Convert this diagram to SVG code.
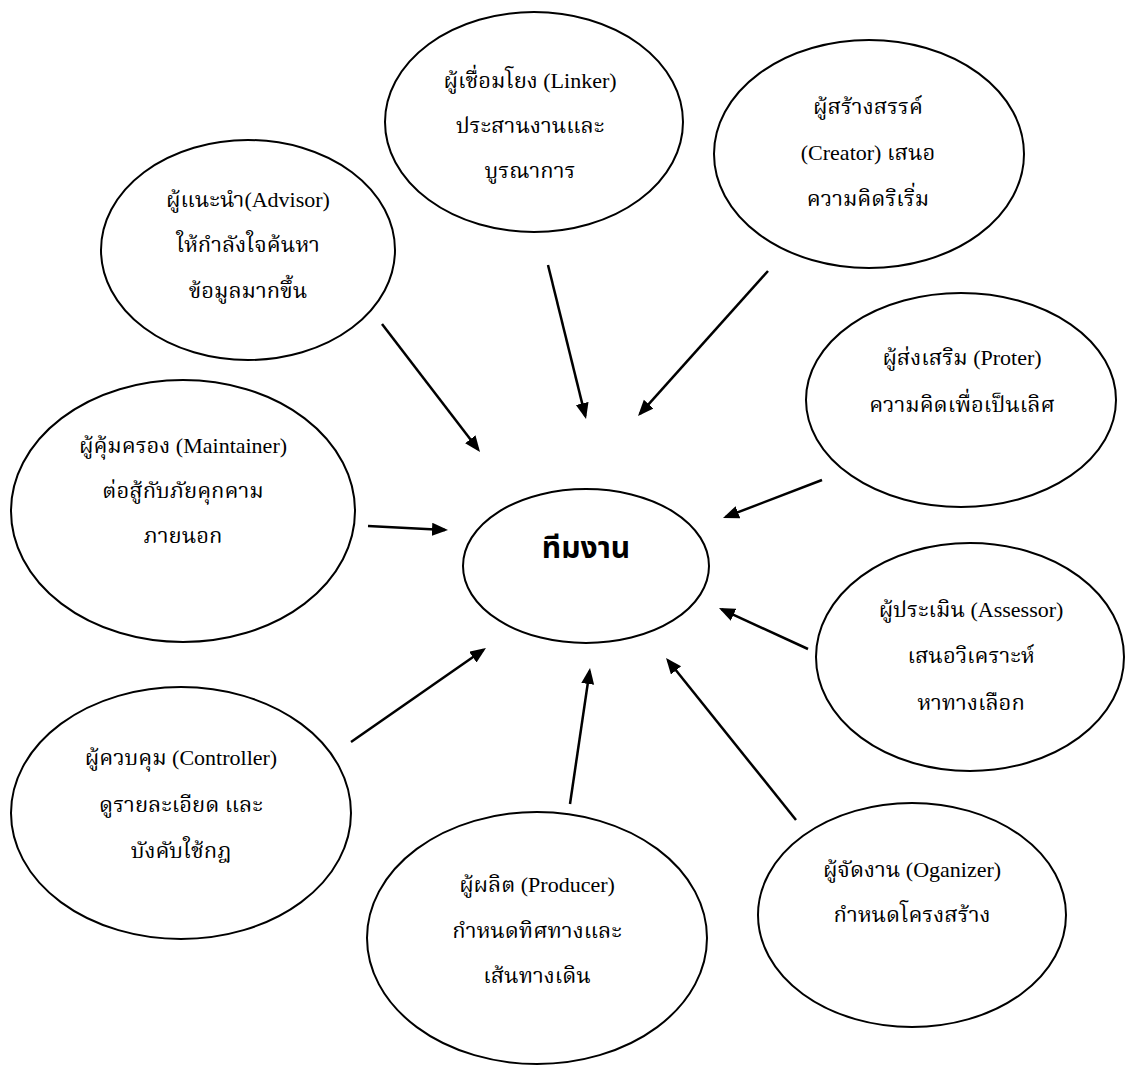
<svg xmlns="http://www.w3.org/2000/svg" width="1125" height="1066" viewBox="0 0 1125 1066">
<defs>
<marker id="ah" markerUnits="userSpaceOnUse" markerWidth="17" markerHeight="14" refX="13" refY="6.5" orient="auto">
<path d="M0,0 L16,6.5 L0,13 z" fill="#000"/>
</marker>
<style>
.n ellipse{fill:none;stroke:#000;stroke-width:2}
.t{font-family:"Liberation Serif","Norasi","Noto Serif Thai",serif;font-size:22px;fill:#000;text-anchor:middle}
.c{font-family:"Liberation Sans","Noto Sans Thai",sans-serif;font-size:30px;font-weight:bold;fill:#000;text-anchor:middle}
#connectors line{stroke:#000;stroke-width:2.5;marker-end:url(#ah)}
</style>
</defs>
<rect width="1125" height="1066" fill="#fff"/>
<g id="linker" class="n"><ellipse cx="534" cy="122" rx="149" ry="110"/>
<text class="t" x="530" y="88">ผู้เชื่อมโยง (Linker)</text>
<text class="t" x="530" y="133">ประสานงานและ</text>
<text class="t" x="530" y="178">บูรณาการ</text></g>
<g id="creator" class="n"><ellipse cx="869" cy="154" rx="155" ry="114"/>
<text class="t" x="868" y="114">ผู้สร้างสรรค์</text>
<text class="t" x="868" y="160">(Creator) เสนอ</text>
<text class="t" x="868" y="206">ความคิดริเริ่ม</text></g>
<g id="advisor" class="n"><ellipse cx="248" cy="250" rx="147" ry="110"/>
<text class="t" x="248" y="207">ผู้แนะนำ(Advisor)</text>
<text class="t" x="248" y="252">ให้กำลังใจค้นหา</text>
<text class="t" x="248" y="298">ข้อมูลมากขึ้น</text></g>
<g id="proter" class="n"><ellipse cx="961" cy="400" rx="155" ry="107"/>
<text class="t" x="962" y="365">ผู้ส่งเสริม (Proter)</text>
<text class="t" x="962" y="412">ความคิดเพื่อเป็นเลิศ</text></g>
<g id="maintainer" class="n"><ellipse cx="183" cy="511" rx="172" ry="131"/>
<text class="t" x="183" y="453">ผู้คุ้มครอง (Maintainer)</text>
<text class="t" x="183" y="498">ต่อสู้กับภัยคุกคาม</text>
<text class="t" x="183" y="543">ภายนอก</text></g>
<g id="team" class="n"><ellipse cx="586" cy="566" rx="123" ry="77"/>
<text class="c" x="586" y="558">ทีมงาน</text></g>
<g id="assessor" class="n"><ellipse cx="970" cy="657" rx="154" ry="114"/>
<text class="t" x="971" y="617">ผู้ประเมิน (Assessor)</text>
<text class="t" x="971" y="663">เสนอวิเคราะห์</text>
<text class="t" x="971" y="710">หาทางเลือก</text></g>
<g id="controller" class="n"><ellipse cx="181" cy="813" rx="170" ry="126"/>
<text class="t" x="181" y="765">ผู้ควบคุม (Controller)</text>
<text class="t" x="181" y="812">ดูรายละเอียด และ</text>
<text class="t" x="181" y="858">บังคับใช้กฎ</text></g>
<g id="producer" class="n"><ellipse cx="537" cy="938" rx="170" ry="126"/>
<text class="t" x="537" y="892">ผู้ผลิต (Producer)</text>
<text class="t" x="537" y="938">กำหนดทิศทางและ</text>
<text class="t" x="537" y="983">เส้นทางเดิน</text></g>
<g id="organizer" class="n"><ellipse cx="912" cy="915" rx="154" ry="112"/>
<text class="t" x="912" y="877">ผู้จัดงาน (Oganizer)</text>
<text class="t" x="912" y="922">กำหนดโครงสร้าง</text></g>
<g id="connectors">
<line x1="382" y1="324" x2="478.2" y2="449.6"/>
<line x1="548" y1="265" x2="585.3" y2="416.1"/>
<line x1="768" y1="271" x2="640" y2="413.8"/>
<line x1="822" y1="480" x2="725.8" y2="516.9"/>
<line x1="368" y1="526" x2="445" y2="529.9"/>
<line x1="808" y1="649" x2="721.7" y2="609.3"/>
<line x1="351" y1="742" x2="483.5" y2="649.7"/>
<line x1="570" y1="804" x2="589.6" y2="671"/>
<line x1="796" y1="820" x2="667.9" y2="660.3"/>
</g>
</svg>
